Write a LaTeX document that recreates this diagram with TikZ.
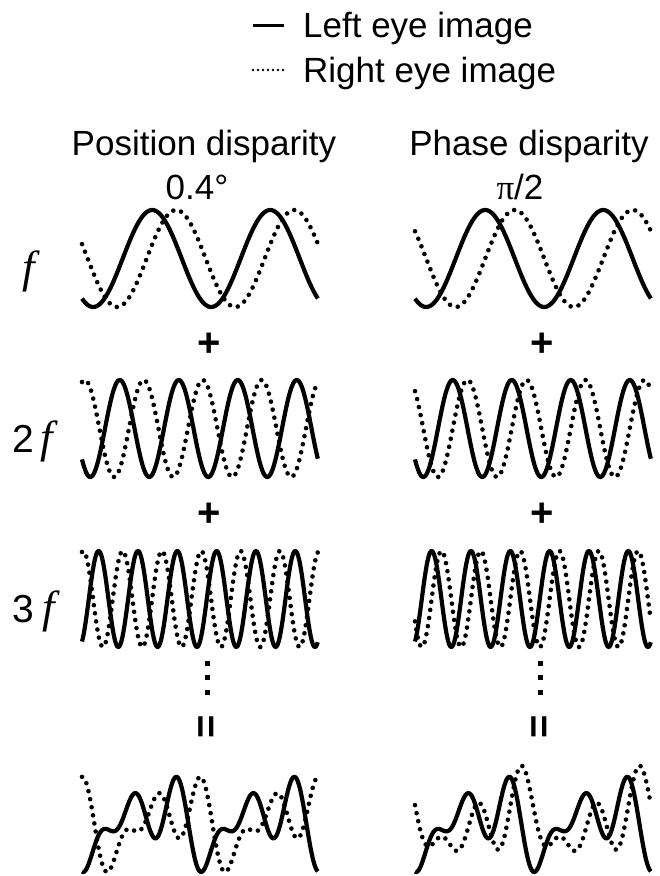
\documentclass[tikz,border=0pt]{standalone}
\usepackage{fontspec}
\setmainfont{Liberation Sans}
\newfontfamily\timesfont{Liberation Serif}

\begin{document}
\begin{tikzpicture}[x=1pt, y=-1pt,
    declare function={
        wone(\p,\q)   = cos(360*(\p-0.595-\q));
        wtwo(\p,\q)   = cos(720*(\p-0.32-\q));
        wthree(\p,\q) = cos(1080*(\p-0.141-\q));
    },
    lefteye/.style={line width=4.2pt, line join=round},
    righteye/.style={line width=4.6pt, line cap=round, dash pattern=on 0pt off 8.2pt},
    txt/.style={font=\fontsize{35}{40}\selectfont, inner sep=0pt},
    digit/.style={font=\fontsize{39}{40}\selectfont, inner sep=0pt},
    fsym/.style={font=\fontsize{45}{45}\selectfont\timesfont\itshape, inner sep=0pt},
    opsign/.style={font=\fontsize{40}{40}\selectfont\bfseries, inner sep=0pt}]

    \useasboundingbox (0,0) rectangle (660,876);

    % Legend
    \coordinate (solidA) at (253,25);
    \coordinate (solidB) at (284,25);
    \coordinate (dotA) at (253,70);
    \coordinate (dotB) at (284,70);
    \draw[line width=3pt] (solidA) -- (solidB);
    \draw[line width=2.8pt, line cap=round, dash pattern=on 0pt off 5pt] (dotA) -- (dotB);
    \node[txt, anchor=base west] (leftkey) at (303,37) {Left eye image};
    \node[txt, anchor=base west] (rightkey) at (303,82) {Right eye image};

    % Column titles
    \node[txt, anchor=base] (postitle) at (204,155) {Position disparity};
    \node[txt, anchor=base] (posval) at (197,199) {0.4°};
    \node[txt, anchor=base] (phatitle) at (529,155) {Phase disparity};
    \node[txt, anchor=base] (phaval) at (520,199) {{\timesfont π}/2};

    % Row labels
    \node[fsym, anchor=base west] (fone) at (22,282) {f};
    \node[digit, anchor=base west] (two) at (12,452) {2};
    \node[fsym, anchor=base west] (ftwo) at (40,452) {f};
    \node[digit, anchor=base west] (three) at (12,622) {3};
    \node[fsym, anchor=base west] (fthree) at (42,622) {f};

    % Waveforms: left eye solid, right eye dotted
    \foreach \ox/\sa/\sb/\sc in {0/0.203/0.203/0.203, 333/0.25/0.125/0.0833}{
        % f
        \draw[lefteye] plot[domain=0:2, samples=160] ({\ox+82+118*\x}, {258.5-48.5*wone(\x,0)});
        \draw[righteye] plot[domain=0:2, samples=160] ({\ox+82+118*\x}, {258.5-48.5*wone(\x,\sa)});
        % 2f
        \draw[lefteye] plot[domain=0:2, samples=240] ({\ox+82+118*\x}, {428.5-48.5*wtwo(\x,0)});
        \draw[righteye] plot[domain=0:2, samples=240] ({\ox+82+118*\x}, {428.5-48.5*wtwo(\x,\sb)});
        % 3f
        \draw[lefteye] plot[domain=0:2, samples=300] ({\ox+82+118*\x}, {599-48*wthree(\x,0)});
        \draw[righteye] plot[domain=0:2, samples=300] ({\ox+82+118*\x}, {599-48*wthree(\x,\sc)});
        % sum
        \draw[lefteye] plot[domain=0:2, samples=300]
            ({\ox+82+118*\x}, {823-20.65*(wone(\x,0)+wtwo(\x,0)+wthree(\x,0))});
        \draw[righteye] plot[domain=0:2, samples=300]
            ({\ox+82+118*\x}, {823-20.65*(wone(\x,\sa)+wtwo(\x,\sb)+wthree(\x,\sc))});

        % Operators between rows
        \node[opsign] (plusa\ox) at (\ox+209,345) {+};
        \node[opsign] (plusb\ox) at (\ox+209,515) {+};
        \foreach \dy in {663,677,692}
            \fill (\ox+204.5,\dy-2.5) rectangle ++(5,5);
        \node[opsign, rotate=90] (eq\ox) at (\ox+209,727) {=};
    }

\end{tikzpicture}
\end{document}
